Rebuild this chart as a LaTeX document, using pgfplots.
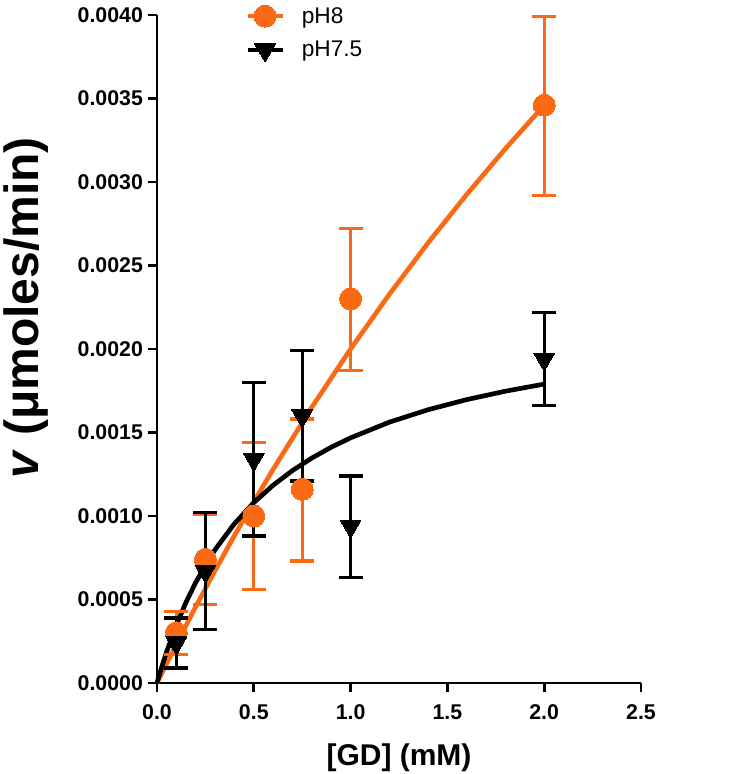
\documentclass[border=0pt]{standalone}
\usepackage{fontspec}
\setmainfont{Liberation Sans}
\usepackage{pgfplots}
\pgfplotsset{compat=1.18}
\usepackage{pgfplotstable}
\definecolor{myorange}{RGB}{250,105,20}

\pgfplotstableread{
x y ep em
0.1 0.00030 0.00013 0.00013
0.25 0.00074 0.00027 0.00027
0.5 0.00100 0.00044 0.00044
0.75 0.00116 0.00042 0.00043
1.0 0.00230 0.00042 0.00043
2.0 0.00346 0.00053 0.00054
}\orangedata

\pgfplotstableread{
x y ep em
0.1 0.00024 0.00015 0.00015
0.25 0.00067 0.00035 0.00035
0.5 0.00134 0.00046 0.00046
0.75 0.00160 0.00039 0.00039
1.0 0.00094 0.00030 0.00031
2.0 0.00194 0.00028 0.00028
}\blackdata

\begin{document}
\begin{tikzpicture}
\path[use as bounding box] (-117.75pt,-68.25pt) rectangle (447pt,512.25pt);
\begin{axis}[
  at={(0,0)}, anchor=south west,
  scale only axis,
  width=363pt, height=501pt,
  xmin=0, xmax=2.5, ymin=0, ymax=0.004,
  clip=false,
  axis lines=left,
  axis line style={-, line width=2pt},
  tick style={line width=2pt, black},
  tick align=outside,
  major tick length=7pt,
  xtick={0,0.5,1,1.5,2,2.5},
  ytick={0,0.0005,0.001,0.0015,0.002,0.0025,0.003,0.0035,0.004},
  scaled y ticks=false,
  scaled x ticks=false,
  /pgf/number format/assume math mode=true,
  xticklabel style={yshift=-6pt, /pgf/number format/.cd, fixed, fixed zerofill, precision=1},
  yticklabel style={/pgf/number format/.cd, fixed, fixed zerofill, precision=4},
  tick label style={font=\fontsize{16}{19}\selectfont\bfseries},
  xlabel={[GD] (mM)},
  xlabel style={font=\fontsize{22.5}{26}\selectfont\bfseries, yshift=-11pt},
  ylabel={\textit{v} (μmoles/min)},
  ylabel style={font=\fontsize{36}{40}\selectfont\bfseries, at={(axis description cs:-0.27,0.562)}, anchor=center, rotate=0},
  legend style={draw=none, fill=none, at={(rel axis cs:0.175,1.02)}, anchor=north west,
    font=\fontsize{17}{20}\selectfont, row sep=8pt, legend cell align=left},
  legend image code/.code={
    \draw[#1, line width=2.5pt, mark=none] (0cm,0cm) -- (0.92cm,0cm);
    \draw[#1, only marks] plot coordinates {(0.46cm,0cm)};
    \path (1.35cm,0cm);
  },
]
% fitted curves
\addplot[myorange, line width=3.5pt, forget plot] coordinates {
(0,0) (0.05,0.0001174) (0.1,0.0002327) (0.2,0.0004571) (0.3,0.0006737) (0.4,0.0008828)
(0.5,0.0010847) (0.6,0.00128) (0.8,0.0016516) (1.0,0.002) (1.2,0.0023273)
(1.4,0.0026353) (1.6,0.0029257) (1.8,0.0032) (2.0,0.0034595)};
\addplot[black, line width=3.5pt, forget plot] coordinates {
(0,0) (0.025,0.0000978) (0.05,0.0001876) (0.1,0.0003467) (0.15,0.0004835) (0.2,0.0006024)
(0.3,0.0007986) (0.4,0.000954) (0.5,0.00108) (0.6,0.0011845) (0.7,0.0012723)
(0.8,0.0013472) (0.9,0.0014119) (1.0,0.001468) (1.2,0.0015619) (1.4,0.0016363)
(1.6,0.001697) (1.8,0.0017474) (2.0,0.0017899)};
% data
\addplot[myorange, only marks, mark=*, mark size=8.25pt, mark options={fill=myorange, draw=myorange, line width=0pt},
  error bars/.cd, y dir=both, y explicit,
  error bar style={line width=2.5pt, myorange},
  error mark options={line width=2.5pt, myorange, mark size=9pt, rotate=90}]
  table[x=x, y=y, y error plus=ep, y error minus=em] {\orangedata};
\addlegendentry{pH8}
\addplot[black, only marks, mark=triangle*, mark size=9pt, mark options={rotate=180, fill=black, draw=black, line width=0pt},
  error bars/.cd, y dir=both, y explicit,
  error bar style={line width=2.5pt, black},
  error mark options={line width=2.5pt, black, mark size=9pt, rotate=90}]
  table[x=x, y=y, y error plus=ep, y error minus=em] {\blackdata};
\addlegendentry{pH7.5}
\end{axis}
\end{tikzpicture}
\end{document}
